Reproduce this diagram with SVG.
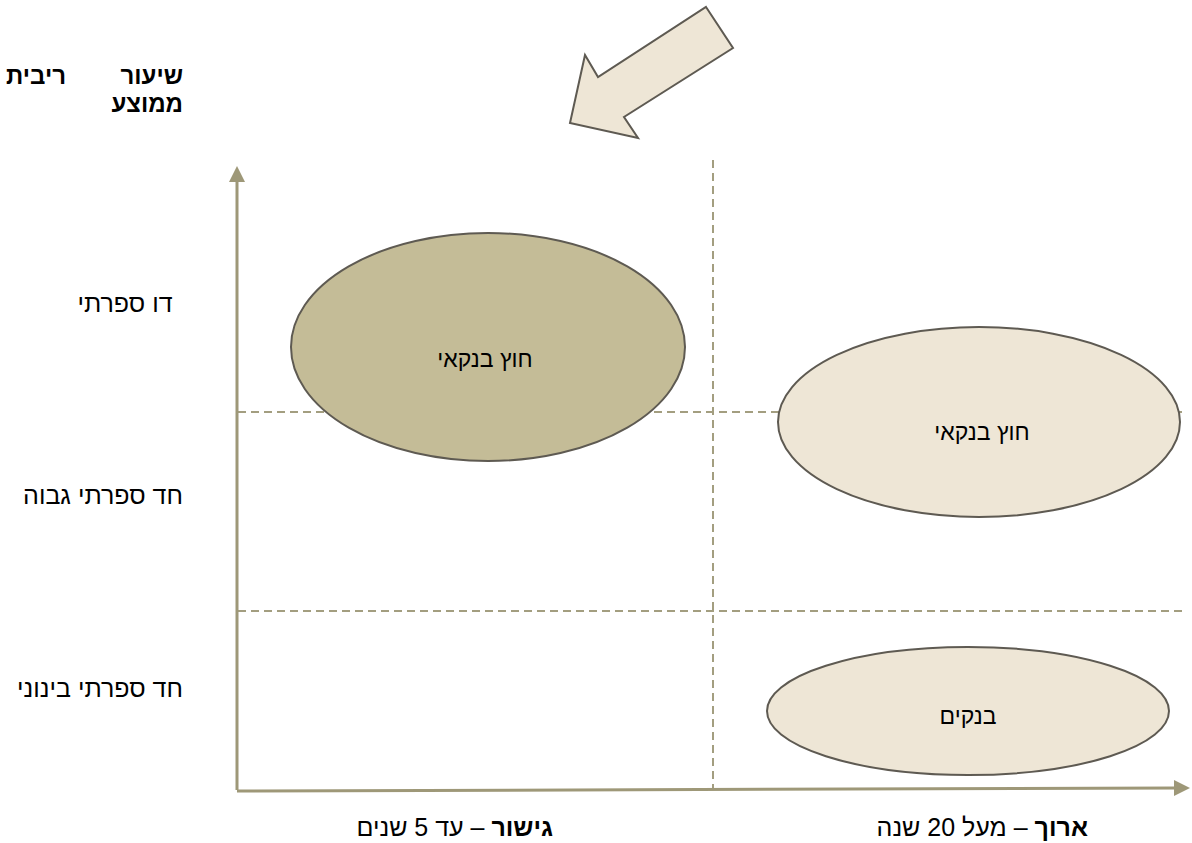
<svg xmlns="http://www.w3.org/2000/svg" width="1192" height="843" viewBox="0 0 1192 843">
<style>
.lbl{font-family:"Liberation Sans",Arial,"DejaVu Sans",sans-serif;font-size:23px;fill:#000;}
.side{font-family:"Liberation Sans",Arial,"DejaVu Sans",sans-serif;font-size:25px;fill:#000;}
.hd{font-family:"Liberation Sans",Arial,"DejaVu Sans",sans-serif;font-size:24px;font-weight:bold;fill:#000;}
.b{font-weight:bold;}
.node{stroke:#5e5a52;stroke-width:2;}
.dash{stroke:#a39e80;stroke-width:2;stroke-dasharray:8,5;fill:none;}
.axis{stroke:#9e9878;stroke-width:3;fill:none;}
</style>
<defs>
<marker id="ahv" markerWidth="16" markerHeight="16" refX="2" refY="8" orient="auto" markerUnits="userSpaceOnUse" viewBox="0 0 16 16">
<path d="M0,0 L16,8 L0,16 z" fill="#9e9878"/>
</marker>
</defs>
<rect width="1192" height="843" fill="#fff"/>
<g id="connectors">
<line class="dash" x1="713" y1="160" x2="713" y2="788"/>
<line class="dash" x1="238" y1="412" x2="1182" y2="412"/>
<line class="dash" x1="238" y1="611" x2="1182" y2="611"/>
<line class="axis" x1="237" y1="790" x2="237" y2="180" marker-end="url(#ahv)"/>
<line class="axis" x1="237" y1="791" x2="1176" y2="788" marker-end="url(#ahv)"/>
</g>
<g id="arrow">
<polygon class="node" fill="#eee6d6" points="706,7 733,48 624,117 638,138 570,123 585,55 598,77"/>
</g>
<g id="node-top-left">
<ellipse class="node" cx="488" cy="347" rx="197" ry="114" fill="#c4bc97"/>
<text class="lbl" x="485" y="367" text-anchor="middle" direction="rtl">חוץ בנקאי</text>
</g>
<g id="node-mid-right">
<ellipse class="node" cx="979" cy="422" rx="201" ry="95" fill="#eee6d6"/>
<text class="lbl" x="982" y="440" text-anchor="middle" direction="rtl">חוץ בנקאי</text>
</g>
<g id="node-bottom-right">
<ellipse class="node" cx="968" cy="711" rx="201" ry="64" fill="#eee6d6"/>
<text class="lbl" x="968" y="724" text-anchor="middle" direction="rtl">בנקים</text>
</g>
<g id="labels">
<text class="hd" x="183" y="84" text-anchor="end">שיעור</text>
<text class="hd" x="66" y="84" text-anchor="end">ריבית</text>
<text class="hd" x="183" y="112" text-anchor="end">ממוצע</text>
<text class="side" x="125" y="312" text-anchor="middle" direction="rtl">דו ספרתי</text>
<text class="side" x="103" y="504" text-anchor="middle" direction="rtl">חד ספרתי גבוה</text>
<text class="side" x="100" y="697" text-anchor="middle" direction="rtl">חד ספרתי בינוני</text>
<text class="side" x="553" y="836" text-anchor="start" direction="rtl"><tspan class="b">גישור</tspan> – עד 5 שנים</text>
<text class="side" x="1088" y="836" text-anchor="start" direction="rtl"><tspan class="b">ארוך</tspan> – מעל 20 שנה</text>
</g>
</svg>
